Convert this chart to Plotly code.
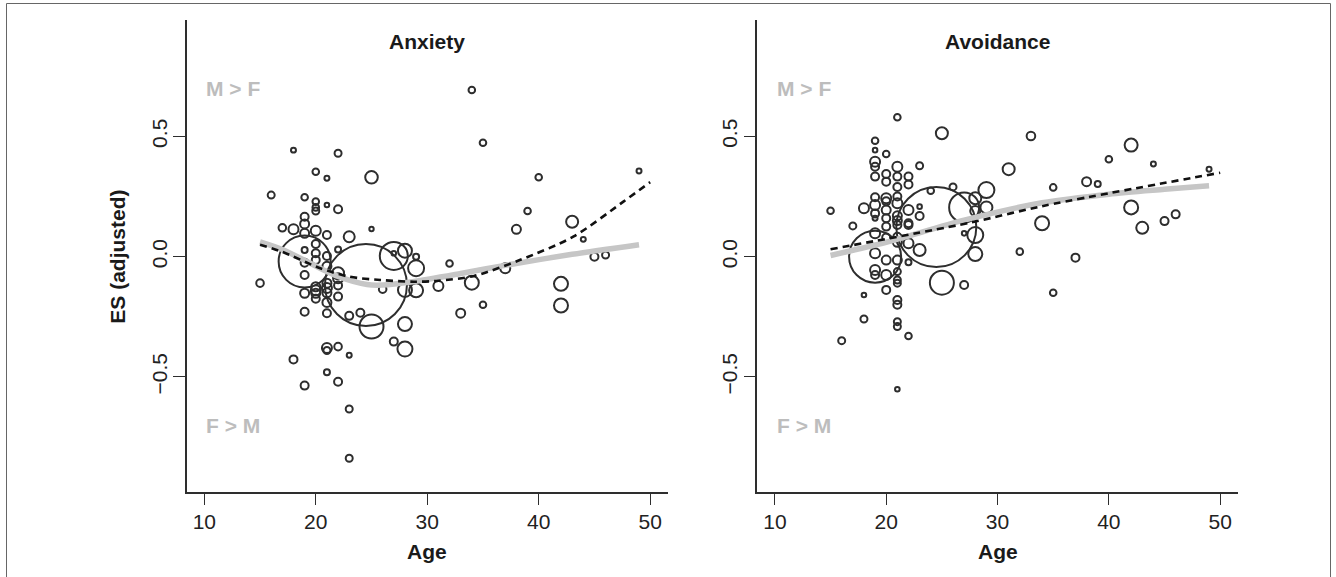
import plotly.graph_objects as go

# ---------------- data ----------------
# Anxiety panel: study mean age, adjusted effect size, sample size (bubble area)
anx_age = [34, 35, 18, 22, 20, 21, 25, 40, 49, 16, 19, 20, 21, 22, 20, 20, 39, 43, 38, 25,
           44, 45, 46, 17, 18, 19, 19, 19, 20, 21, 23, 20, 19, 20, 20, 21, 22, 19, 21, 19,
           15, 19, 24.5, 27, 27, 28, 29, 29, 32, 28, 29, 26, 31, 34, 37, 42, 42, 33, 35, 25,
           28, 27, 28, 24, 23, 21, 21, 22, 23, 18, 21, 22, 19, 23, 23, 19, 19, 20, 20, 20,
           21, 21, 21, 21, 22, 22, 21, 20, 22, 22]
anx_es = [0.693, 0.474, 0.443, 0.43, 0.353, 0.326, 0.33, 0.33, 0.356, 0.256, 0.247, 0.229, 0.215, 0.197, 0.19, 0.205, 0.19, 0.145, 0.114, 0.115,
          0.072, 0.0, 0.007, 0.12, 0.114, 0.166, 0.136, 0.097, 0.108, 0.09, 0.083, 0.053, 0.028, 0.014, -0.014, 0.003, 0.03, -0.025, -0.04, -0.076,
          -0.11, -0.02, -0.118, 0.003, 0.014, 0.025, 0.0, -0.048, -0.028, -0.138, -0.14, -0.135, -0.122, -0.108, -0.048, -0.113, -0.203, -0.235, -0.2, -0.29,
          -0.28, -0.353, -0.384, -0.233, -0.246, -0.38, -0.39, -0.374, -0.41, -0.427, -0.48, -0.52, -0.536, -0.633, -0.838, -0.152, -0.229, -0.125, -0.152, -0.175,
          -0.11, -0.15, -0.19, -0.235, -0.166, -0.09, -0.13, -0.14, -0.12, -0.069]
anx_n = [121, 121, 69, 136, 121, 69, 441, 121, 69, 136, 121, 121, 59, 178, 136, 121, 121, 400, 225, 54,
         69, 178, 136, 160, 278, 178, 225, 225, 278, 178, 336, 178, 100, 178, 178, 178, 100, 178, 225, 178,
         160, 7511, 18678, 2178, 59, 544, 100, 711, 121, 544, 544, 160, 278, 544, 278, 544, 544, 225, 121, 1600,
         544, 178, 625, 178, 178, 278, 136, 160, 69, 178, 100, 178, 178, 136, 136, 225, 178, 225, 225, 178,
         225, 225, 225, 178, 178, 278, 278, 278, 178, 400]

# Avoidance panel
avo_age = [21, 25, 33, 42, 19, 19, 20, 40, 44, 49, 19, 19, 21, 23, 31, 19, 20, 20, 21, 21,
           22, 22, 26, 29, 38, 39, 35, 24, 15, 24.5, 27, 28, 29, 18, 19, 19, 20, 20, 20, 21,
           21, 21, 22, 22, 23, 23, 19, 19, 20, 17, 19, 21, 22, 23, 19, 20, 21, 22, 19, 20,
           19, 21, 21, 21, 19, 20, 18, 21, 21, 18, 21, 21, 22, 16, 21, 25, 27, 28, 28, 27,
           34, 32, 37, 35, 42, 43, 45, 46, 21, 22, 20, 21, 21, 20, 28]
avo_es = [0.58, 0.513, 0.502, 0.464, 0.482, 0.443, 0.427, 0.405, 0.385, 0.364, 0.395, 0.374, 0.374, 0.378, 0.364, 0.333, 0.344, 0.312, 0.333, 0.29,
          0.333, 0.3, 0.29, 0.277, 0.312, 0.302, 0.288, 0.274, 0.191, 0.123, 0.205, 0.243, 0.205, 0.201, 0.215, 0.18, 0.194, 0.16, 0.243, 0.222,
          0.17, 0.15, 0.194, 0.139, 0.208, 0.169, 0.247, 0.16, 0.125, 0.128, 0.097, 0.083, 0.056, 0.028, 0.014, -0.014, -0.014, -0.023, -0.055, -0.076,
          -0.076, -0.062, -0.097, -0.11, 0.0, -0.138, -0.159, -0.18, -0.2, -0.259, -0.27, -0.29, -0.33, -0.349, -0.551, -0.108, -0.118, 0.011, 0.09, 0.097,
          0.139, 0.021, -0.004, -0.15, 0.205, 0.12, 0.148, 0.176, 0.132, 0.132, 0.23, 0.25, 0.06, 0.08, 0.19]
avo_n = [121, 400, 205, 469, 121, 59, 121, 121, 69, 69, 278, 178, 278, 136, 400, 178, 178, 178, 178, 178,
         178, 178, 136, 711, 225, 100, 121, 121, 121, 17778, 2500, 400, 400, 278, 278, 178, 225, 178, 278, 278,
         225, 225, 278, 178, 59, 178, 178, 69, 178, 136, 278, 178, 278, 400, 278, 225, 225, 100, 278, 278,
         178, 136, 136, 136, 7511, 178, 59, 178, 178, 136, 136, 136, 121, 136, 59, 1600, 178, 544, 711, 59,
         544, 121, 178, 121, 544, 400, 178, 178, 178, 178, 178, 178, 225, 178, 278]

# Fitted curves
anx_smooth_x = [15, 17, 20.7, 22, 24.6, 26, 28.7, 33, 37.1, 43, 49]
anx_smooth_y = [0.062, 0.03, -0.055, -0.082, -0.116, -0.118, -0.104, -0.07, -0.035, 0.01, 0.05]
anx_quad_x = [15, 17, 20.4, 23, 25.8, 28.8, 31, 34.2, 38.3, 43.1, 47.6, 50]
anx_quad_y = [0.05, 0.02, -0.048, -0.083, -0.097, -0.104, -0.1, -0.08, -0.014, 0.083, 0.229, 0.31]
avo_smooth_x = [15, 20, 27, 34, 40, 45, 49]
avo_smooth_y = [0.005, 0.06, 0.152, 0.224, 0.26, 0.28, 0.295]
avo_quad_x = [15, 27.5, 34, 50]
avo_quad_y = [0.031, 0.141, 0.21, 0.349]

panel_titles = ["Anxiety", "Avoidance"]
x_ticks = [10, 20, 30, 40, 50]
y_ticks = [-0.5, 0.0, 0.5]
y_ticktext = ["\u22120.5", "0.0", "0.5"]

# ---------------- figure ----------------
W, H = 1336, 577
FONT = "Liberation Sans, Arial, Helvetica, sans-serif"
INK = "#2e2e2e"
px_r = 0.3  # radius (px) per sqrt(n)
sizeref = 1.0 / (2 * px_r ** 2)

fig = go.Figure()

panels = [
    ("x", "y", anx_age, anx_es, anx_n, anx_smooth_x, anx_smooth_y, anx_quad_x, anx_quad_y),
    ("x2", "y2", avo_age, avo_es, avo_n, avo_smooth_x, avo_smooth_y, avo_quad_x, avo_quad_y),
]
for xa, ya, ages, es, n, sx, sy, qx, qy in panels:
    fig.add_trace(go.Scatter(
        x=ages, y=es, mode="markers", xaxis=xa, yaxis=ya, showlegend=False,
        marker=dict(size=n, sizemode="area", sizeref=sizeref, color="rgba(0,0,0,0)",
                    opacity=1, line=dict(color=INK, width=2.0)),
        hoverinfo="skip"))
    fig.add_trace(go.Scatter(
        x=sx, y=sy, mode="lines", xaxis=xa, yaxis=ya, showlegend=False,
        line=dict(color="#c6c6c6", width=5.5, shape="spline", smoothing=0.8)))
    fig.add_trace(go.Scatter(
        x=qx, y=qy, mode="lines", xaxis=xa, yaxis=ya, showlegend=False,
        line=dict(color="#111111", width=2.6, dash="7px,5px", shape="spline", smoothing=0.8)))

xr = [8.42, 51.6]
yr = [-0.977, 0.984]
ydom = [1 - 491.7 / H, 1 - 20 / H]
xdoms = [[186.7 / W, 668 / W], [757.3 / W, 1238 / W]]

ax_common = dict(showgrid=False, zeroline=False, showline=True, linecolor=INK, linewidth=1.5,
                 ticks="outside", ticklen=12, tickwidth=1.3, tickcolor=INK,
                 tickfont=dict(family=FONT, size=21, color="#222222"))

layout = dict(
    width=W, height=H, autosize=False,
    margin=dict(l=0, r=0, t=0, b=0),
    paper_bgcolor="white", plot_bgcolor="white",
    font=dict(family=FONT),
)
for i, dom in enumerate(xdoms):
    sfx = "" if i == 0 else "2"
    layout["xaxis" + sfx] = dict(domain=dom, range=xr, tickmode="array", tickvals=x_ticks,
                                 anchor="y" + sfx, ticklabelstandoff=-2, **ax_common)
    layout["yaxis" + sfx] = dict(domain=ydom, range=yr, tickmode="array", tickvals=y_ticks,
                                 ticktext=y_ticktext, tickangle=-90, anchor="x" + sfx,
                                 ticklabelstandoff=-2, **ax_common)
fig.update_layout(**layout)

ann = []
for i, t in enumerate(panel_titles):
    sfx = "" if i == 0 else "2"
    ann.append(dict(xref="x" + sfx, yref="y" + sfx, x=30, y=0.894, text="<b>%s</b>" % t,
                    xanchor="center", yanchor="middle",
                    showarrow=False, font=dict(family=FONT, size=21, color="#1a1a1a")))
    ann.append(dict(xref="x" + sfx, yref="y" + sfx, x=10, y=0.70, text="<b>M &gt; F</b>",
                    xanchor="left", yanchor="middle", showarrow=False,
                    font=dict(family=FONT, size=21, color="#bdbdbd")))
    ann.append(dict(xref="x" + sfx, yref="y" + sfx, x=10, y=-0.70, text="<b>F &gt; M</b>",
                    xanchor="left", yanchor="middle", showarrow=False,
                    font=dict(family=FONT, size=21, color="#bdbdbd")))
    xc = (xdoms[i][0] + xdoms[i][1]) / 2
    ann.append(dict(xref="paper", yref="paper", x=xc, y=1 - 551.7 / H, text="<b>Age</b>",
                    xanchor="center", yanchor="middle",
                    showarrow=False, font=dict(family=FONT, size=21, color="#1a1a1a")))
ann.append(dict(xref="paper", yref="paper", x=118 / W, y=1 - 256.7 / H, text="<b>ES (adjusted)</b>",
                xanchor="center", yanchor="middle",
                textangle=-90, showarrow=False, font=dict(family=FONT, size=21, color="#1a1a1a")))
fig.update_layout(annotations=ann)

fig.add_shape(type="rect", xref="paper", yref="paper", x0=6.5 / W, x1=1330.5 / W,
              y0=-0.02, y1=1 - 3.5 / H, line=dict(color="#666666", width=1))

fig.write_html("out.html")
